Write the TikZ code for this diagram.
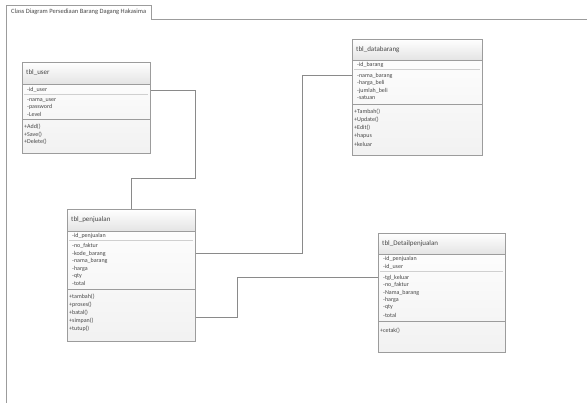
\documentclass[tikz,border=0pt]{standalone}
\usepackage{fontspec}
\setmainfont{Carlito}
\usepackage{tikz}
\usetikzlibrary{positioning,calc}
\definecolor{Edge}{HTML}{9C9C9C}
\definecolor{Ink}{HTML}{474747}
\definecolor{Band}{HTML}{E4E4E4}
\definecolor{Rule}{HTML}{D0D0D0}
\definecolor{Wire}{HTML}{8A8A8A}

\begin{document}
\begin{tikzpicture}[x=1pt,y=-1pt,every node/.style={inner sep=0pt,text=Ink},
  cls/.style={draw=Edge,line width=0.6pt,anchor=north west},
  head/.style={top color=white,bottom color=Band,draw=Edge,line width=0.5pt},
  body/.style={top color=white,bottom color=Band!50},
  cname/.style={anchor=west,font=\fontsize{7}{8}\selectfont},
  attr/.style={anchor=west,font=\fontsize{6}{7}\selectfont},
  wire/.style={draw=Wire,line width=0.6pt}]
  \useasboundingbox (0,0) rectangle (587,403);

  \node[anchor=north west,inner xsep=5pt,minimum height=14pt,font=\fontsize{6.5}{7}\selectfont] (tab) at (6,5) {Class Diagram Persediaan Barang Dagang Hakasima};
  \coordinate (frameR) at (587,19);
  \coordinate (frameB) at (6,403);
  \draw[Edge,line width=0.7pt] (frameB) |- (tab.north east) |- (frameR);

  % tbl_user
  \shade[body] (22,62) rectangle (150,153);
  \shade[head] (22,62) rectangle (150,84);
  \node[cname] (userT) at (26,73) {tbl\_user};
  \node[attr] (ua1) at (27,90) {-id\_user};
  \draw[Rule] (24,94.5) -- (148,94.5);
  \foreach \t [count=\i from 2] in {-nama\_user,-password,-Level}
    \node[attr] (ua\i) at (27,{93+7*(\i-1)}) {\t};
  \draw[Edge] (22,119.5) -- (150,119.5);
  \foreach \t [count=\i] in {+Add(),+Save(),+Delete()}
    \node[attr] (um\i) at (24,{119.5+7.5*\i}) {\t};
  \node[cls,minimum width=128pt,minimum height=91pt] (user) at (22,62) {};

  % tbl_databarang
  \shade[body] (352,39) rectangle (482,155);
  \shade[head] (352,39) rectangle (482,60);
  \node[cname] (brgT) at (356,49.5) {tbl\_databarang};
  \node[attr] (ba1) at (357,64.5) {-id\_barang};
  \draw[Rule] (354,69.5) -- (480,69.5);
  \foreach \t [count=\i from 2] in {-nama\_barang,-harga\_beli,-jumlah\_beli,-satuan}
    \node[attr] (ba\i) at (357,{68+7.5*(\i-1)}) {\t};
  \draw[Edge] (352,104) -- (482,104);
  \foreach \t [count=\i] in {+Tambah(),+Update(),+Edit(),+hapus,+keluar}
    \node[attr] (bm\i) at (354,{104+8*\i}) {\t};
  \node[cls,minimum width=130pt,minimum height=116pt] (brg) at (352,39) {};

  % tbl_penjualan
  \shade[body] (67,209) rectangle (195,341);
  \shade[head] (67,209) rectangle (195,231);
  \node[cname] (jualT) at (71,220) {tbl\_penjualan};
  \node[attr] (ja1) at (72,236) {-id\_penjualan};
  \draw[Rule] (69,240.5) -- (193,240.5);
  \foreach \t [count=\i from 2] in {-no\_faktur,-kode\_barang,-nama\_barang,-harga,-qty,-total}
    \node[attr] (ja\i) at (72,{238.5+7.5*(\i-1)}) {\t};
  \draw[Edge] (67,289) -- (195,289);
  \foreach \t [count=\i] in {+tambah(),+proses(),+batal(),+simpan(),+tutup()}
    \node[attr] (jm\i) at (69,{289+8*\i}) {\t};
  \node[cls,minimum width=128pt,minimum height=132pt] (jual) at (67,209) {};

  % tbl_Detailpenjualan
  \shade[body] (378,233) rectangle (505,352);
  \shade[head] (378,233) rectangle (505,254);
  \node[cname] (detT) at (382,244) {tbl\_Detailpenjualan};
  \foreach \t [count=\i] in {-id\_penjualan,-id\_user}
    \node[attr] (da\i) at (383,{251.5+7.5*\i}) {\t};
  \draw[Rule] (380,271.5) -- (503,271.5);
  \foreach \t [count=\i from 3] in {-tgl\_keluar,-no\_faktur,-Nama\_barang,-harga,-qty,-total}
    \node[attr] (da\i) at (383,{262.5+7.5*(\i-1)}) {\t};
  \draw[Edge] (378,321) -- (505,321);
  \node[attr] (dm1) at (380,331) {+cetak()};
  \node[cls,minimum width=127pt,minimum height=119pt] (det) at (378,233) {};

  \coordinate (kinkA) at (195,178);
  \coordinate (kinkB) at (302,0);
  \coordinate (kinkC) at (237,0);
  \coordinate (jOut) at ($(jm3)!0.5!(jm4)$);
  \draw[wire] (ua1 -| user.east) -| (kinkA) -| (jual.north);
  \draw[wire] (ja3 -| jual.east) -| (kinkB |- ba2) -- (ba2 -| brg.west);
  \draw[wire] (jOut -| jual.east) -| (kinkC |- da3) -- (da3 -| det.west);
\end{tikzpicture}
\end{document}
